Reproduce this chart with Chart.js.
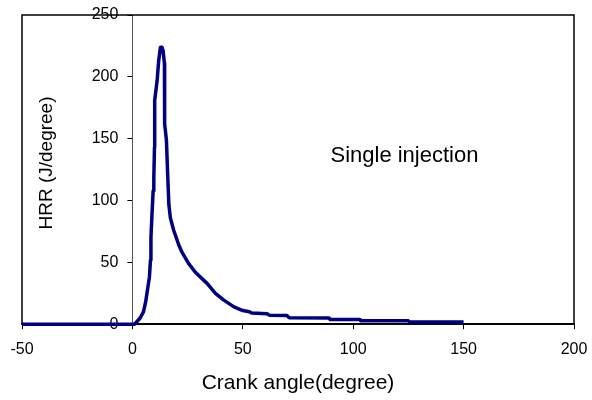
<!DOCTYPE html>
<html><head><meta charset="utf-8">
<script src="https://cdn.jsdelivr.net/npm/chart.js@4"></script>
<style>html,body{margin:0;padding:0;background:#fff}</style>
</head><body>
<canvas id="c" width="592" height="400" style="width:592px;height:400px;display:block"></canvas>
<script>
const crankAngle = [-50, 0, 1, 2, 3.5, 5, 6, 6.6, 7.7, 8.2, 8.4, 8.9, 9.4, 9.7, 10, 10.1, 11.2, 11.9, 12.7, 13.4, 13.9, 14.5, 14.6, 15.4, 16.0, 16.5, 17.2, 18.7, 21, 22.5, 25.5, 28.5, 33.8, 37.6, 41.4, 46, 50, 53, 54, 61, 62, 70, 71, 89, 89.5, 103, 103.5, 125, 125.5, 150];
const hrr = [0, 0, 0, 2, 5, 10, 18, 25, 38, 52, 70, 90, 108, 118, 143, 181, 197, 213, 224, 224, 221, 211, 162, 149, 120, 97, 86, 76, 64, 58, 49, 42, 33, 25, 19.5, 14, 11, 10, 9, 8.5, 7.3, 7, 5.3, 5.1, 3.9, 3.9, 2.7, 2.7, 1.8, 1.8];
const xTickLabels = ['-50', '0', '50', '100', '150', '200'];
const yTickLabels = ['0', '50', '100', '150', '200', '250'];
const xTitle = 'Crank angle(degree)';
const yTitle = 'HRR (J/degree)';
const annotationText = 'Single injection';
const annotationAt = {x: 89.7, y: 131};
const yAxisCrossesAt = 0;

const FONT = "'Liberation Sans', Arial, sans-serif";
const points = crankAngle.map((x, i) => ({x: x, y: hrr[i]}));

const decor = {
  id: 'decor',
  afterLayout(chart) {
    // y axis crosses the x axis at x = yAxisCrossesAt
    const y = chart.scales.y;
    const px = chart.scales.x.getPixelForValue(yAxisCrossesAt);
    const w = y.right - y.left;
    y.right = px;
    y.left = px - w;
  },
  beforeDatasetsDraw(chart) {
    const {ctx, chartArea: a} = chart;
    ctx.save();
    ctx.strokeStyle = '#000';
    ctx.lineWidth = 1.5;
    ctx.strokeRect(a.left, a.top, a.right - a.left, a.bottom - a.top);
    ctx.restore();
  },
  afterDraw(chart) {
    const {ctx, chartArea: a, scales} = chart;
    ctx.save();
    ctx.fillStyle = '#000';
    ctx.font = '19px ' + FONT;
    ctx.textAlign = 'center';
    ctx.textBaseline = 'middle';
    ctx.translate(a.left + 25, 163);
    ctx.rotate(-Math.PI / 2);
    ctx.fillText(yTitle, 0, 0);
    ctx.restore();
    ctx.save();
    ctx.fillStyle = '#000';
    ctx.font = '22px ' + FONT;
    ctx.textAlign = 'left';
    ctx.textBaseline = 'alphabetic';
    ctx.fillText(annotationText, scales.x.getPixelForValue(annotationAt.x), scales.y.getPixelForValue(annotationAt.y));
    ctx.restore();
  }
};

new Chart(document.getElementById('c'), {
  type: 'scatter',
  data: {
    datasets: [{
      label: annotationText,
      data: points,
      showLine: true,
      borderColor: '#000080',
      borderWidth: 3.5,
      pointRadius: 0,
      tension: 0,
      borderJoinStyle: 'round',
      clip: false
    }]
  },
  options: {
    responsive: false,
    animation: false,
    layout: {padding: {left: -20, right: 18, top: 15, bottom: 4.4}},
    plugins: {legend: {display: false}, tooltip: {enabled: false}},
    scales: {
      x: {
        type: 'linear',
        position: 'bottom',
        min: -50, max: 200,
        afterFit: (s) => { s.paddingLeft = 0; s.paddingRight = 0; },
        ticks: {
          stepSize: 50,
          color: '#000',
          font: {family: FONT, size: 16},
          padding: 11,
          maxRotation: 0,
          callback: (v, i) => xTickLabels[i]
        },
        grid: {drawOnChartArea: false, tickLength: 5, color: '#000', tickWidth: 1},
        border: {display: true, color: '#000', width: 1.5},
        title: {display: true, text: xTitle, color: '#000', font: {family: FONT, size: 21}, padding: {top: 0, bottom: 0}}
      },
      y: {
        type: 'linear',
        position: 'left',
        min: 0, max: 250,
        z: 1,
        afterFit: (s) => { s.width = 42; s.paddingTop = 0; s.paddingBottom = 0; },
        ticks: {
          stepSize: 50,
          color: '#000',
          font: {family: FONT, size: 16},
          padding: 9,
          callback: (v, i) => yTickLabels[i]
        },
        grid: {drawOnChartArea: false, tickLength: 5, color: '#000', tickWidth: 1},
        border: {display: true, color: '#555', width: 1}
      }
    }
  },
  plugins: [decor]
});
</script>
</body></html>
